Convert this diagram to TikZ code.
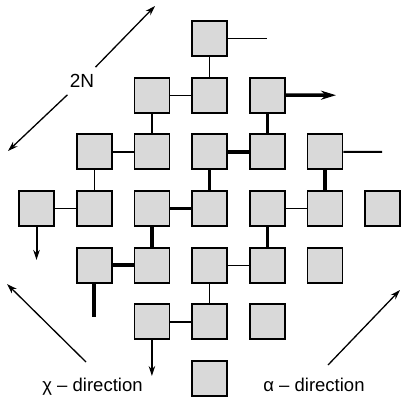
\documentclass[tikz,border=0pt]{standalone}
\usepackage{fontspec}
\setmainfont{Liberation Sans}
\usetikzlibrary{arrows.meta}
\begin{document}
\begin{tikzpicture}[x=1pt,y=-1pt,
  cell/.style={draw=black,line width=1.8pt,fill=black!15,minimum size=35pt,inner sep=0pt},
  lnthin/.style={line width=1.3pt},
  lnmed/.style={line width=2pt},
  lnthick/.style={line width=3.6pt},
  tipa/.style={-{Stealth[length=10pt,width=6.5pt]}},
  tipb/.style={-{Stealth[length=15pt,width=9pt]}},
  lbl/.style={font=\fontsize{18.5}{20}\selectfont,inner sep=0pt,anchor=base}
]
\useasboundingbox (0,0) rectangle (401,400);
\foreach \r/\c in {0/3,1/2,1/3,1/4,2/1,2/2,2/3,2/4,2/5,3/0,3/1,3/2,3/3,3/4,3/5,3/6,4/1,4/2,4/3,4/4,4/5,5/2,5/3,5/4,6/3}
  \node[cell] (b\r\c) at ({36.5+57.7*\c},{38.5+56.67*\r}) {};
% free ends
\coordinate (s03) at (267,38.5);
\coordinate (a14) at (336,95.2);
\coordinate (s25) at (382,151.8);
\coordinate (a30) at (36.5,260);
\coordinate (s41) at (94,317);
\coordinate (a52) at (151.9,376);
% connectors
\draw[lnthin] (b03) -- (s03);
\draw[lnthin] (b03) -- (b13);
\draw[lnthin] (b12) -- (b13);
\draw[lnthin] (b12) -- (b22);
\draw[lnthick,tipb] (b14) -- (a14);
\draw[lnthick] (b14) -- (b24);
\draw[lnmed] (b21) -- (b22);
\draw[lnthick] (b23) -- (b24);
\draw[lnthick] (b23) -- (b33);
\draw[lnmed] (b25) -- (s25);
\draw[lnthick] (b25) -- (b35);
\draw[lnthin] (b21) -- (b31);
\draw[lnthin] (b30) -- (b31);
\draw[lnmed,tipa] (b30) -- (a30);
\draw[lnthick] (b32) -- (b33);
\draw[lnthick] (b32) -- (b42);
\draw[lnthin] (b34) -- (b35);
\draw[lnthick] (b34) -- (b44);
\draw[lnthick] (b41) -- (b42);
\draw[line width=4.5pt] (b41.south -| s41) -- (s41);
\draw[lnthin] (b43) -- (b44);
\draw[lnthin] (b43) -- (b53);
\draw[lnthin] (b52) -- (b53);
\draw[lnmed,tipa] (b52) -- (a52);
% direction arrows
\coordinate (p1) at (8,151);
\coordinate (p2) at (155,6);
\node[font=\fontsize{19}{20}\selectfont,inner sep=7pt] (n2N) at (82,81) {2N};
\draw[lnthin,tipa] (n2N) -- (p1);
\draw[lnthin,tipa] (n2N) -- (p2);
\coordinate (c1) at (86,362);
\coordinate (c2) at (7,284);
\draw[lnthin,tipa] (c1) -- (c2);
\coordinate (d1) at (328,365);
\coordinate (d2) at (400,290);
\draw[lnthin,tipa] (d1) -- (d2);
\node[lbl] (tchi) at (92.5,391) {χ – direction};
\node[lbl] (talpha) at (314,391) {α – direction};
\end{tikzpicture}
\end{document}
